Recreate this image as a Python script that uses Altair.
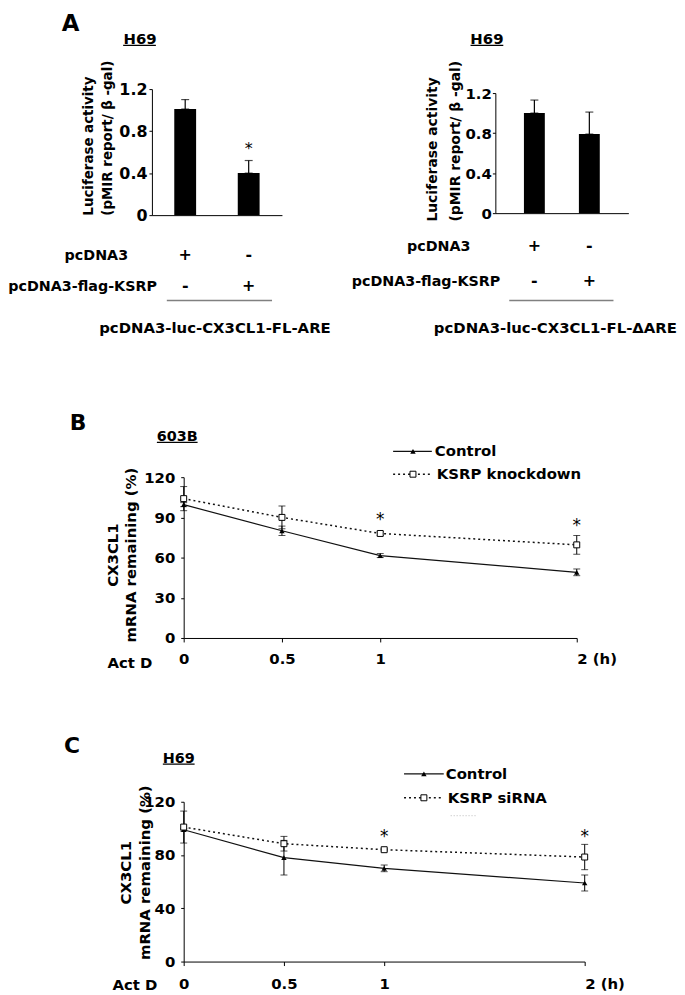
import json
import altair as alt
import pandas as pd

FONT = "DejaVu Sans"

# ---------------- Panel A data ----------------
a_conditions = ["pcDNA3", "pcDNA3-flag-KSRP"]
a_row_names = ["pcDNA3", "pcDNA3-flag-KSRP"]
a_row_pcdna3 = ["+", "-"]
a_row_ksrp = ["-", "+"]
a_cell = "H69"
a_ytitle = ["Luciferase activity", "(pMIR report/ \u03b2 -gal)"]
a_yticks = [0, 0.4, 0.8, 1.2]

a1_values = [1.01, 0.40]
a1_errors = [0.09, 0.12]
a1_star_cond = ["pcDNA3-flag-KSRP"]
a1_star_y = [0.68]
a1_footer = "pcDNA3-luc-CX3CL1-FL-ARE"

a2_values = [1.00, 0.79]
a2_errors = [0.13, 0.22]
a2_star_cond = []
a2_star_y = []
a2_footer = "pcDNA3-luc-CX3CL1-FL-\u0394ARE"

# ---------------- Panels B / C data ----------------
time_h = [0, 0.5, 1, 2]
time_ticks = [0, 0.5, 1, 2]
hours_unit = "(h)"
act_label = "Act D"
decay_ytitle = ["CX3CL1", "mRNA remaining (%)"]
star = "*"

b_cell = "603B"
b_names = ["Control", "KSRP knockdown"]
b_control = [99.5, 80, 61.5, 49]
b_control_err = [1.5, 3.5, 1.5, 2.5]
b_ksrp = [104, 90, 78, 69.5]
b_ksrp_err = [9, 8.5, 1.5, 7]
b_star_t = [1, 2]
b_star_y = [92, 87]
b_yticks = [0, 30, 60, 90, 120]

c_cell = "H69"
c_names = ["Control", "KSRP siRNA"]
c_control = [99, 78, 70, 59]
c_control_err = [1, 13, 2.5, 6]
c_ksrp = [101, 88.5, 84, 78.5]
c_ksrp_err = [12, 5.5, 1, 9.5]
c_star_t = [1, 2]
c_star_y = [97, 97]
c_yticks = [0, 40, 80, 120]

panel_letters = ["A", "B", "C"]

ONE = pd.DataFrame({"k": [0]})
NUMFMT = ".1~f"


def text_at(s, x, y, size, weight="bold", align="center", color="black"):
    return alt.Chart(ONE).mark_text(
        text=s, font=FONT, fontSize=size, fontWeight=weight, align=align,
        baseline="middle", color=color
    ).encode(x=alt.value(x), y=alt.value(y))


def hline(x1, x2, y, color="black", width=1.3, dash=None):
    kw = dict(color=color, strokeWidth=width)
    if dash:
        kw["strokeDash"] = dash
    return alt.Chart(ONE).mark_rule(**kw).encode(
        x=alt.value(x1), x2=alt.value(x2), y=alt.value(y))


def bar_panel(values, errors, star_cond, star_y, footer, letter, p):
    df = pd.DataFrame({
        "cond": a_conditions,
        "value": values,
        "hi": [v + e for v, e in zip(values, errors)],
    })
    col0 = [a_row_pcdna3[0], a_row_ksrp[0]]
    col1 = [a_row_pcdna3[1], a_row_ksrp[1]]
    label_expr = (f"datum.value == {json.dumps(a_conditions[0])} ? "
                  f"{json.dumps(col0)} : {json.dumps(col1)}")
    x = alt.X("cond:N", sort=a_conditions,
              scale=alt.Scale(paddingInner=p["pi"], paddingOuter=p["po"]),
              axis=alt.Axis(title=footer, labelExpr=label_expr, labelAngle=0,
                            labelBaseline="top", labelPadding=p["lp"],
                            labelLineHeight=p["lh"], labelFontSize=16,
                            ticks=False, titleX=p["tx"], titleY=p["ty"],
                            titleAlign="center", titleBaseline="middle",
                            titleFontSize=15))
    sc = dict(domain=[0, 1.2], nice=False)
    if "yrange" in p:
        sc["range"] = p["yrange"]
    yaxis = alt.Axis(values=a_yticks, format=NUMFMT, title=a_ytitle,
                     labelFontSize=p["ylf"], tickSize=3, labelPadding=p["ylp"],
                     titleFontSize=p["tf"], titleLineHeight=p["tlh"],
                     titleAngle=270, titleAlign="left", titleBaseline="bottom",
                     titleX=p["ytx"], titleY=p["yty"])

    def y(field):
        return alt.Y(f"{field}:Q", scale=alt.Scale(**sc), axis=yaxis)

    layers = [
        alt.Chart(df).mark_bar(color="black").encode(x=x, y=y("value")),
        alt.Chart(df).mark_errorbar(ticks=True, size=8, thickness=1.2,
                                    color="black").encode(x=x, y=y("value"), y2="hi:Q"),
    ]
    if star_cond:
        sdf = pd.DataFrame({"cond": star_cond, "value": star_y})
        layers.append(alt.Chart(sdf).mark_text(
            text=star, font=FONT, fontSize=16, dy=5, color="black").encode(x=x, y=y("value")))
    layers += [
        text_at(a_row_names[0], p["r0x"], p["r0y"], 14.4, align="right"),
        text_at(a_row_names[1], p["r1x"], p["r1y"], 14.4, align="right"),
        hline(p["gx1"], p["gx2"], p["gy"], color="#808080", width=1.5),
        text_at(a_cell, p["hx"], p["hy"], 15),
        hline(p["ux1"], p["ux2"], p["uy"], width=1.3),
    ]
    if letter:
        layers.append(text_at(letter, p["lx"], p["ly"], 23))
    return alt.layer(*layers).properties(width=p["w"], height=p["h"])


def decay_panel(ctrl, ctrl_err, ksrp, ksrp_err, star_t, star_y, names, yticks,
                cell, letter, p):
    label_expr = f"datum.value == 2 ? datum.label + ' {hours_unit}' : datum.label"
    x = alt.X("time:Q", scale=alt.Scale(domain=[0, 2], nice=False, zero=False),
              axis=alt.Axis(values=time_ticks, format=NUMFMT, labelExpr=label_expr,
                            labelAlign={"condition": {"test": "datum.value == 2",
                                                      "value": "left"},
                                        "value": "center"},
                            labelFlush=False, labelBaseline="top",
                            labelPadding=p["xlp"], tickSize=4, labelFontSize=15,
                            title=act_label, titleX=p["atx"], titleY=p["aty"],
                            titleAlign="right", titleBaseline="middle",
                            titleFontSize=15))
    yaxis = alt.Axis(values=yticks, format=NUMFMT, tickSize=3, labelPadding=6,
                     labelFontSize=15, title=decay_ytitle, titleFontSize=15,
                     titleLineHeight=p["tlh"], titleAngle=270, titleAlign="center",
                     titleBaseline="bottom", titleX=p["ytx"], titleY=p["yty"])

    def y(field):
        return alt.Y(f"{field}:Q", scale=alt.Scale(domain=[0, 120], nice=False),
                     axis=yaxis)

    dfc = pd.DataFrame({"time": time_h, "value": ctrl,
                        "lo": [v - e for v, e in zip(ctrl, ctrl_err)],
                        "hi": [v + e for v, e in zip(ctrl, ctrl_err)]})
    dfk = pd.DataFrame({"time": time_h, "value": ksrp,
                        "lo": [v - e for v, e in zip(ksrp, ksrp_err)],
                        "hi": [v + e for v, e in zip(ksrp, ksrp_err)]})
    sdf = pd.DataFrame({"time": star_t, "value": star_y})

    tri = dict(shape="triangle-up", filled=True, size=30, color="black", opacity=1)
    sq = dict(shape="square", filled=True, fill="white", stroke="black",
              strokeWidth=1, size=36, opacity=1)
    dotted = [2, 3]

    layers = [
        alt.Chart(dfc).mark_errorbar(ticks=True, size=7, thickness=1, color="black",
                                     orient="vertical").encode(x=x, y=y("lo"), y2="hi:Q"),
        alt.Chart(dfk).mark_errorbar(ticks=True, size=7, thickness=1, color="black",
                                     orient="vertical").encode(x=x, y=y("lo"), y2="hi:Q"),
        alt.Chart(dfc).mark_line(color="#111111", strokeWidth=1.2).encode(x=x, y=y("value")),
        alt.Chart(dfk).mark_line(color="#111111", strokeWidth=1.5,
                                 strokeDash=dotted).encode(x=x, y=y("value")),
        alt.Chart(dfc).mark_point(**tri).encode(x=x, y=y("value")),
        alt.Chart(dfk).mark_point(**sq).encode(x=x, y=y("value")),
        alt.Chart(sdf).mark_text(text=star, font=FONT, fontSize=17, dy=5,
                                 color="black").encode(x=x, y=y("value")),
        # legend
        hline(p["lgx1"], p["lgx2"], p["lg0"], color="#111111", width=1.2),
        alt.Chart(ONE).mark_point(**tri).encode(x=alt.value(p["lgm"]), y=alt.value(p["lg0"])),
        text_at(names[0], p["lgt0"], p["lg0"], 15, align="left"),
        hline(p["lgx1"], p["lgx2"], p["lg1"], color="#111111", width=1.5, dash=dotted),
        alt.Chart(ONE).mark_point(**sq).encode(x=alt.value(p["lgm"]), y=alt.value(p["lg1"])),
        text_at(names[1], p["lgt1"], p["lg1"], 15, align="left"),
        # cell line title and panel letter
        text_at(cell, p["hx"], p["hy"], 14.5),
        hline(p["ux1"], p["ux2"], p["uy"], width=1.3),
        text_at(letter, p["lx"], p["ly"], 22),
    ]
    if "faint" in p:
        fx1, fx2, fy = p["faint"]
        layers.append(hline(fx1, fx2, fy, color="#c8c8c8", width=1.2, dash=[1, 2]))
    return alt.layer(*layers).properties(width=p["w"], height=p["h"])


a1 = bar_panel(a1_values, a1_errors, a1_star_cond, a1_star_y, a1_footer, panel_letters[0], dict(
    w=131, h=127, pi=0.656, po=0.352, lp=32, lh=31, tx=63, ty=113.5,
    ylf=16, ylp=2, tf=13.5, tlh=19, ytx=-57, yty=127,
    r0x=-24, r0y=168, r1x=5, r1y=199,
    gx1=15, gx2=121, gy=213,
    hx=-12, hy=-50, ux1=-29, ux2=4, uy=-44,
    lx=-82, ly=-66))

a2 = bar_panel(a2_values, a2_errors, a2_star_cond, a2_star_y, a2_footer, None, dict(
    w=134, h=125, yrange=[125, 4], pi=0.62, po=0.52, lp=25, lh=35, tx=60, ty=115.5,
    ylf=15, ylp=1, tf=14, tlh=23, ytx=-56, yty=133,
    r0x=-25, r0y=159.5, r1x=5, r1y=194.5,
    gx1=14, gx2=119, gy=213,
    hx=-8.5, hy=-50, ux1=-25, ux2=8, uy=-44))

b = decay_panel(b_control, b_control_err, b_ksrp, b_ksrp_err, b_star_t, b_star_y,
                b_names, b_yticks, b_cell, panel_letters[1], dict(
    w=396, h=162, xlp=10, atx=-32, aty=25, tlh=18, ytx=-64, yty=78,
    lgx1=211, lgx2=250, lgm=231, lg0=-26, lg1=-3, lgt0=253, lgt1=255,
    hx=-6.5, hy=-40, ux1=-27, ux2=14, uy=-35,
    lx=-106.5, ly=-55))

c = decay_panel(c_control, c_control_err, c_ksrp, c_ksrp_err, c_star_t, c_star_y,
                c_names, c_yticks, c_cell, panel_letters[2], dict(
    w=404, h=161, xlp=11.5, atx=-27, aty=23, tlh=20, ytx=-51, yty=71,
    lgx1=222, lgx2=262, lgm=242, lg0=-28, lg1=-4, lgt0=264, lgt1=266,
    hx=-5, hy=-43, ux1=-21, ux2=11, uy=-38,
    lx=-112.5, ly=-56, faint=(269, 294, 14)))

spacer = alt.Chart(ONE).mark_point(opacity=0, size=1).encode(
    x=alt.value(0), y=alt.value(0)).properties(width=32, height=1)

row_a = alt.hconcat(a1, a2, spacing=215, bounds="flush")
lower = alt.hconcat(spacer, alt.vconcat(b, c, spacing=165, bounds="flush"),
                    spacing=0, bounds="flush")

chart = alt.vconcat(row_a, lower, spacing=391, bounds="flush").properties(
    padding={"left": 0, "top": 1, "right": 0, "bottom": 0}
).configure_view(strokeWidth=0).configure_axis(
    labelFont=FONT, titleFont=FONT, labelFontWeight="bold", titleFontWeight="bold",
    labelColor="black", titleColor="black", domainColor="black", tickColor="black",
    grid=False, domainWidth=1
)

chart.save("out.html", embed_options={"renderer": "svg", "actions": False})
